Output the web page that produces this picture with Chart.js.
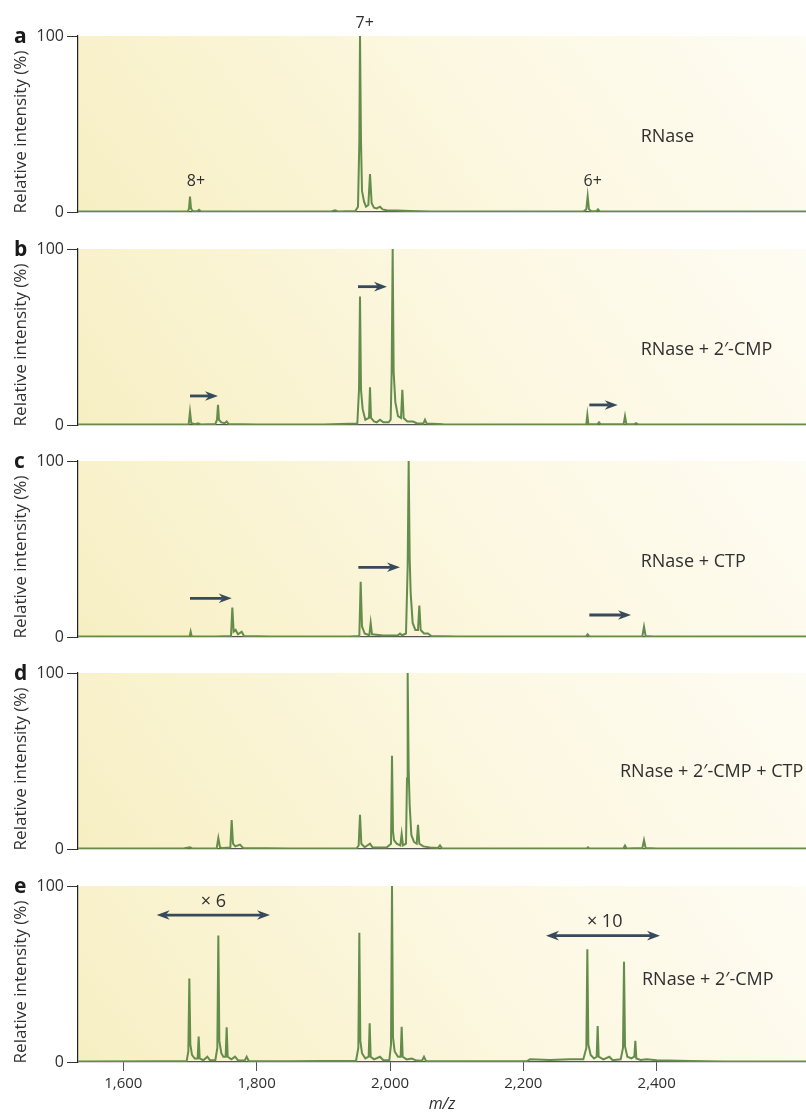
<!DOCTYPE html>
<html lang="en">
<head>
<meta charset="UTF-8">
<title>RNase ligand binding spectra</title>
<script src="https://cdn.jsdelivr.net/npm/chart.js@4"></script>
<style>
  html, body { margin: 0; padding: 0; background: #fff; }
  body { width: 806px; height: 1117px; position: relative; overflow: hidden; }
  .panel { position: absolute; left: 0; width: 806px; }
</style>
</head>
<body>
<div class="panel" style="top:0;height:226px"><canvas id="chartA"></canvas></div>
<div class="panel" style="top:213px;height:226px"><canvas id="chartB"></canvas></div>
<div class="panel" style="top:425px;height:226px"><canvas id="chartC"></canvas></div>
<div class="panel" style="top:637px;height:226px"><canvas id="chartD"></canvas></div>
<div class="panel" style="top:850px;height:267px"><canvas id="chartE"></canvas></div>

<script>
// m/z axis
const mzMin = 1532;
const mzMax = 2624;
const mzTicks = [1600, 1800, 2000, 2200, 2400];

// spectra: [m/z, relative intensity %]
const spectrumA = [
  [1532,0.3],[1650,0.3],[1697,0.4],[1698.5,2],[1700,8.7],[1701.5,2],[1704,0.5],[1711,0.4],[1713.5,1.2],[1716,0.4],
  [1800,0.3],[1912,0.3],[1917.5,1],[1922,0.3],[1948,0.5],[1952,3],[1954,40],[1955,100],[1956.5,40],[1958,12],
  [1961,6],[1964,3],[1967.5,4],[1970,21.5],[1972.5,5],[1976,2.5],[1980,2],[1985,3],[1989,1.5],[1995,1],
  [2010,0.8],[2030,0.5],[2060,0.3],[2290,0.3],[2294.5,1.5],[2296.5,9],[2298.5,1.5],[2302,0.4],[2309.5,0.4],[2312,1.5],
  [2314.5,0.4],[2330,0.3],[2624,0.3]
];
const spectrumB = [
  [1532,0.3],[1680,0.3],[1698,0.4],[1700,7.6],[1702,1],[1708,0.4],[1712,1],[1716,0.3],[1738,0.5],[1740.5,3],
  [1742,11.4],[1743.5,3],[1747,1.5],[1752,1],[1755,2],[1758,0.5],[1800,0.3],[1900,0.3],[1951,0.8],[1953.5,20],
  [1955,73],[1956.5,20],[1959,9],[1963,3],[1968.5,4],[1970,21.4],[1971.5,4],[1976,2],[1980,1.5],[1985,3],
  [1990,1.5],[1998,1.5],[2001,3],[2002.5,30],[2004,100],[2005.5,30],[2008,13],[2012,5],[2016.5,4],[2018.5,20],
  [2020.5,4],[2026,2],[2034.5,2],[2040,1],[2050,0.8],[2052.5,3],[2055,0.8],[2080,0.4],[2290,0.3],[2294.5,0.5],
  [2296,5.7],[2297.5,0.6],[2303,0.4],[2311,0.4],[2313.5,1.5],[2316,0.4],[2350.5,0.6],[2352.5,5],[2354.5,0.6],[2366,0.4],
  [2369,1],[2372,0.4],[2624,0.3]
];
const spectrumC = [
  [1532,0.3],[1690,0.3],[1699.5,0.4],[1701,3],[1702.5,0.4],[1740,0.3],[1761.5,0.6],[1763.5,16.7],[1765.5,3],[1768.5,4],
  [1772,1.5],[1777.5,3],[1781,0.6],[1820,0.3],[1940,0.3],[1954,0.6],[1956,31.4],[1958,6],[1962,2],[1969,1],
  [1971,8],[1973,1.5],[1990,0.8],[2012,1],[2015,2],[2018,1],[2024,2],[2026.5,40],[2028,100],[2029.5,45],
  [2031,25],[2034,8],[2038,4],[2042,4],[2044,17.8],[2046,4],[2051,2],[2057,2],[2062,0.6],[2100,0.3],
  [2294,0.3],[2296.5,1.5],[2299,0.3],[2378.5,0.4],[2381,5.9],[2383.5,0.5],[2395,0.3],[2624,0.3]
];
const spectrumD = [
  [1532,0.3],[1690,0.3],[1700,1],[1703,0.3],[1740,0.4],[1742.5,6.2],[1745,0.8],[1750,0.5],[1760.5,0.8],[1762.5,16.4],
  [1764.5,3],[1768,1.5],[1775,2.5],[1780,0.5],[1850,0.3],[1950,0.4],[1953,2],[1955,19.5],[1957,3],[1962,1],
  [1970,3],[1974,0.8],[1995,0.8],[2001.5,3],[2003,53],[2004.5,10],[2006,5],[2010,3],[2015.5,2],[2017.5,8.5],
  [2019.5,2],[2024,3],[2025.5,40],[2026.5,100],[2028,45],[2029.5,25],[2032,8],[2036,4],[2040,3],[2042,13.8],
  [2044,3],[2050,1.5],[2060,0.8],[2072,0.6],[2075,2],[2078,0.4],[2200,0.3],[2295,0.3],[2297,1],[2299,0.3],
  [2350,0.3],[2352.5,2],[2355,0.3],[2378.5,0.5],[2381,5],[2383.5,0.5],[2400,0.3],[2624,0.3]
];
const spectrumE = [
  [1532,0.3],[1660,0.4],[1695,0.5],[1697.5,6],[1699,47.5],[1700.5,10],[1703,4],[1707,2],[1711.5,2],[1713,14.4],
  [1714.5,2],[1720,1],[1726,3],[1730,1],[1738,1],[1741,8],[1742.5,71.8],[1744,12],[1747,5],[1750,3],
  [1753.5,3],[1755,19.7],[1756.5,3],[1762,1.5],[1767.5,3],[1772,1],[1782,0.8],[1785,3],[1788,0.6],[1850,0.4],
  [1900,0.5],[1949,0.6],[1952.5,8],[1954,73.5],[1955.5,12],[1958,5],[1963,2],[1968,3],[1969.5,22],[1971,3],
  [1976,1.5],[1985,3],[1990,1],[1999,1],[2001.5,10],[2003,100],[2004.5,14],[2007,6],[2012,3],[2016,3],
  [2017.5,20],[2019,3],[2025,1.5],[2032.5,2],[2040,0.8],[2048,0.7],[2051,3],[2054,0.6],[2100,0.4],[2205,0.4],
  [2210,1.5],[2240,1.2],[2270,1.6],[2290,1.5],[2294.5,8],[2296,64],[2297.5,10],[2301,4],[2306,2],[2310,3],
  [2311.5,20.5],[2313,3],[2320,1.5],[2329,3],[2334,1],[2346,1.5],[2349.5,8],[2351,57],[2352.5,9],[2356,3],
  [2362,2],[2366.5,3],[2368,12],[2369.5,2],[2376,1.2],[2385,1.5],[2400,1],[2450,0.6],[2500,0.3],[2624,0.3]
];

// annotations in data units: arrows [fromMz, toMz, intensity]
const arrowsB = [[1700, 1742, 16.5], [1952, 1995.5, 78.6], [2299, 2341.6, 11.4]];
const arrowsC = [[1700, 1762.6, 22], [1952.5, 2015, 39.6], [2299, 2361.5, 12.5]];
const rangesE = [[1650, 1820, 83.5], [2234, 2405, 71.8]];

const FONT = '"Open Sans", "Noto Sans", sans-serif';
const INK = '#2f2f2f';
const ARROW = '#364a5c';
const LINE = '#648c4a';

function drawArrow(ctx, x1, x2, y, both) {
  const len = 12, half = 4.8;
  ctx.save();
  ctx.strokeStyle = ARROW;
  ctx.fillStyle = ARROW;
  ctx.lineWidth = 2.8;
  ctx.beginPath();
  ctx.moveTo(both ? x1 + len - 3 : x1, y);
  ctx.lineTo(x2 - len + 3, y);
  ctx.stroke();
  const head = (tip, dir) => {
    ctx.beginPath();
    ctx.moveTo(tip, y);
    ctx.lineTo(tip - dir * (len + 1), y - half);
    ctx.lineTo(tip - dir * (len - 3), y);
    ctx.lineTo(tip - dir * (len + 1), y + half);
    ctx.closePath();
    ctx.fill();
  };
  head(x2, 1);
  if (both) head(x1, -1);
  ctx.restore();
}

// plot-area gradient
const backdrop = {
  id: 'backdrop',
  beforeDraw(chart) {
    const {ctx, chartArea: a} = chart;
    const h = a.bottom - a.top;
    const g = ctx.createLinearGradient(a.left, a.bottom, a.right, a.top - 2 * h);
    g.addColorStop(0, '#f7efc3');
    g.addColorStop(0.45, '#fcf8e2');
    g.addColorStop(1, '#ffffff');
    ctx.save();
    ctx.fillStyle = g;
    ctx.fillRect(a.left, a.top, a.right - a.left, h);
    ctx.restore();
  }
};

// letters, axis title, labels and arrows
const notes = {
  id: 'notes',
  afterDatasetsDraw(chart, args, opts) {
    const {ctx, chartArea: a, scales: {x, y}} = chart;
    ctx.save();
    ctx.fillStyle = '#1a1a1a';
    ctx.font = 'bold 21px ' + FONT;
    ctx.textAlign = 'left';
    ctx.textBaseline = 'middle';
    ctx.fillText(opts.letter, 14, a.top + 1);

    ctx.save();
    ctx.translate(21, (a.top + a.bottom) / 2 + 8);
    ctx.rotate(-Math.PI / 2);
    ctx.textAlign = 'center';
    ctx.fillStyle = INK;
    ctx.font = '17px ' + FONT;
    ctx.fillText('Relative intensity (%)', 0, 0);
    ctx.restore();

    (opts.texts || []).forEach(t => {
      ctx.fillStyle = INK;
      ctx.font = (t.size || 18) + 'px ' + FONT;
      ctx.textAlign = t.align || 'left';
      ctx.fillText(t.text, x.getPixelForValue(t.mz), y.getPixelForValue(t.at));
    });
    (opts.arrows || []).forEach(([m1, m2, v]) => {
      drawArrow(ctx, x.getPixelForValue(m1), x.getPixelForValue(m2), y.getPixelForValue(v), false);
    });
    (opts.ranges || []).forEach(([m1, m2, v]) => {
      drawArrow(ctx, x.getPixelForValue(m1), x.getPixelForValue(m2), y.getPixelForValue(v), true);
    });
    ctx.restore();
  }
};

function makePanel(id, spectrum, note, bottom) {
  new Chart(document.getElementById(id), {
    type: 'line',
    data: {
      datasets: [{
        data: spectrum.map(([mz, v]) => ({x: mz, y: v})),
        borderColor: LINE,
        borderWidth: 2,
        pointRadius: 0,
        tension: 0,
        fill: false
      }]
    },
    options: {
      responsive: true,
      maintainAspectRatio: false,
      animation: false,
      events: [],
      layout: { padding: { top: 36, right: 0, left: 0, bottom: bottom ? 0 : 14 } },
      plugins: {
        legend: { display: false },
        tooltip: { enabled: false },
        notes: note
      },
      scales: {
        x: {
          type: 'linear',
          min: mzMin,
          max: mzMax,
          afterFit: s => { s.height = bottom ? 55 : 0; },
          afterBuildTicks: s => { s.ticks = mzTicks.map(v => ({value: v})); },
          border: { display: true, color: '#555', width: 1.2 },
          grid: { drawOnChartArea: false, drawTicks: bottom, tickLength: 9, color: '#555' },
          ticks: {
            display: bottom,
            padding: 4,
            color: INK,
            font: { family: FONT, size: 15 },
            callback: v => v.toLocaleString('en-US'),
            maxRotation: 0
          },
          title: {
            display: bottom,
            text: 'm/z',
            color: INK,
            font: { family: FONT, size: 16, style: 'italic' },
            padding: { top: 0, bottom: 3 }
          }
        },
        y: {
          min: 0,
          max: 100,
          afterFit: s => { s.width = 78; },
          border: { display: true, color: '#222', width: 1.2 },
          grid: { drawOnChartArea: false, drawTicks: true, tickLength: 11, color: '#333' },
          ticks: {
            stepSize: 100,
            padding: 3,
            color: INK,
            font: { family: FONT, size: 16 }
          }
        }
      }
    },
    plugins: [backdrop, notes]
  });
}

makePanel('chartA', spectrumA, {
  letter: 'a',
  texts: [
    {text: '7+', mz: 1962, at: 107, align: 'center', size: 16},
    {text: '8+', mz: 1709, at: 17.3, align: 'center', size: 16},
    {text: '6+', mz: 2304, at: 17.3, align: 'center', size: 16},
    {text: 'RNase', mz: 2376, at: 42.5}
  ]
}, false);

makePanel('chartB', spectrumB, {
  letter: 'b',
  texts: [{text: 'RNase + 2\u2032-CMP', mz: 2376, at: 42.5}],
  arrows: arrowsB
}, false);

makePanel('chartC', spectrumC, {
  letter: 'c',
  texts: [{text: 'RNase + CTP', mz: 2376, at: 42.5}],
  arrows: arrowsC
}, false);

makePanel('chartD', spectrumD, {
  letter: 'd',
  texts: [{text: 'RNase + 2\u2032-CMP + CTP', mz: 2345, at: 44}]
}, false);

makePanel('chartE', spectrumE, {
  letter: 'e',
  texts: [
    {text: '\u00d7 6', mz: 1735, at: 91, align: 'center'},
    {text: '\u00d7 10', mz: 2322, at: 79.5, align: 'center'},
    {text: 'RNase + 2\u2032-CMP', mz: 2378, at: 46.6}
  ],
  ranges: rangesE
}, true);
</script>
</body>
</html>
